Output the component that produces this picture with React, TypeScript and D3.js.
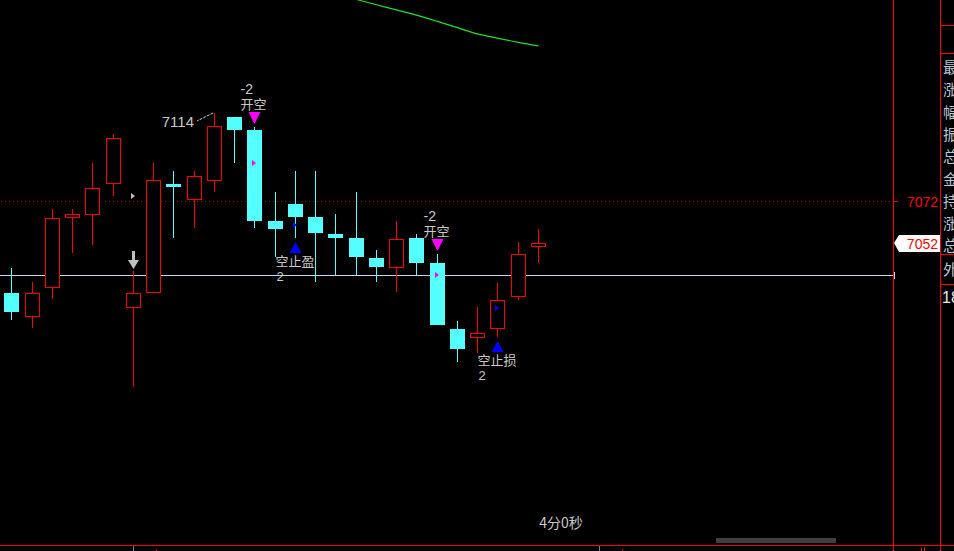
import React from "react";
import * as d3 from "d3";

const W = 954;
const H = 551;

// OHLC bars (index order, left to right)
const opens = [7028, 7017, 7031, 7064.5, 7066, 7080.5, 7021, 7028.5, 7080, 7073, 7082, 7112, 7106, 7062.5, 7070.5, 7064.5, 7056, 7054.5, 7044.5, 7040.5, 7054.5, 7042.5, 7010.5, 7007, 7011, 7026.5, 7050.5];
const highs = [7040, 7033, 7068, 7068, 7090, 7104, 7038.5, 7090, 7086.5, 7086.5, 7114, 7112, 7107.5, 7076.5, 7086.5, 7086.5, 7066, 7076.5, 7048.5, 7062.5, 7056, 7046.5, 7014.5, 7021, 7032.5, 7052.5, 7058.5];
const lows = [7015, 7011, 7025, 7047, 7051, 7074.5, 6983, 7028.5, 7054.5, 7059, 7076.5, 7090, 7059, 7045, 7054.5, 7033, 7036.5, 7036.5, 7033, 7028.5, 7036.5, 7012.5, 6995, 6999, 7007, 7024.5, 7042.5];
const closes = [7019, 7028, 7064, 7066, 7078, 7102, 7028, 7082, 7078.5, 7084, 7108, 7106, 7062.5, 7058.5, 7064.5, 7056.5, 7054.5, 7045, 7040.5, 7054, 7042.5, 7012.5, 7001, 7009, 7024.5, 7046.5, 7052];

// green average line
const maIndex = [16, 17, 18, 19, 20, 21, 22, 23, 24, 25, 26];
const maValues = [7171, 7168.5, 7166, 7163.5, 7161, 7158, 7155, 7152, 7150, 7148, 7146.3];

// trade signals
const openSignalIdx = [12, 21];
const openSignalQty = ["-2", "-2"];
const openSignalText = ["开空", "开空"];
const closeSignalIdx = [14, 24];
const closeSignalQty = ["2", "2"];
const closeSignalText = ["空止盈", "空止损"];

// small position markers
const markerIdx = [6, 12, 14, 21, 24];
const markerPrice = [7074.4, 7090.2, 7060.5, 7036.6, 7020.8];
const markerColor = ["#c0c0c0", "#ff00ff", "#0000ff", "#ff00ff", "#0000ff"];

const arrowIdx = 6;
const highLabelIdx = 10;
const highLabel = "7114";
const refPrice = 7036.6;
const gridPrice = 7072;
const gridLabel = "7072";
const lastPrice = 7052;
const lastLabel = "7052";
const timerText = "4分0秒";
const panelChars = ["最", "涨", "幅", "振", "总", "金", "持", "涨", "总"];
const panelChar2 = "外";
const panelNum = "18";
const timeTickIdx = [6, 29];

const RED = "#ff0000";
const CYAN = "#54ffff";
const TXT = "#c8c8c8";
const CJK = "'Noto Sans CJK SC', 'Noto Sans', sans-serif";
const NUM = "'Liberation Sans', Arial, sans-serif";

export default function App() {
  const x = d3.scaleLinear().domain([0, 1]).range([11.8, 32.05]);
  const y = d3.scaleLinear().domain([gridPrice, 7114]).range([201, 113.3]);
  const px = (i: number) => Math.floor(x(i));
  const py = (p: number) => Math.round(y(p));

  const plotRight = 893;
  const axisRight = 940;

  const maLine = d3
    .line<number>()
    .x((_, k) => px(maIndex[k]) + 0.5)
    .y((v) => y(v))
    .curve(d3.curveMonotoneX);

  const candles = opens.map((o, i) => {
    const c = closes[i];
    const h = highs[i];
    const l = lows[i];
    const cx = px(i);
    const up = c >= o;
    const top = py(Math.max(o, c));
    const bot = py(Math.min(o, c));
    if (up) {
      const bh = Math.max(bot - top, 1);
      return (
        <g key={i}>
          {py(h) < top && <line x1={cx + 0.5} x2={cx + 0.5} y1={py(h)} y2={top} stroke={RED} />}
          {py(l) > top + bh && <line x1={cx + 0.5} x2={cx + 0.5} y1={top + bh + 1} y2={py(l)} stroke={RED} />}
          <rect x={cx - 7 + 0.5} y={top + 0.5} width={14} height={bh} fill="#000" stroke={RED} />
        </g>
      );
    }
    return (
      <g key={i}>
        <line x1={cx + 0.5} x2={cx + 0.5} y1={py(h)} y2={py(l)} stroke={CYAN} />
        <rect x={cx - 7} y={top} width={15} height={Math.max(bot - top, 1)} fill={CYAN} />
      </g>
    );
  });

  return (
    <svg
      width={W}
      height={H}
      style={{ position: "absolute", left: 0, top: 0, background: "#000", display: "block" }}
    >
      <rect x={0} y={0} width={W} height={H} fill="#000" />

      {/* dotted grid line */}
      <line x1={1} x2={plotRight - 3} y1={py(gridPrice) + 0.5} y2={py(gridPrice) + 0.5} stroke="#8a0000" strokeDasharray="1 3" />
      <line x1={plotRight + 1} x2={plotRight + 5} y1={py(gridPrice) + 0.5} y2={py(gridPrice) + 0.5} stroke={RED} />

      {/* reference line */}
      <line x1={0} x2={plotRight} y1={py(refPrice) + 0.5} y2={py(refPrice) + 0.5} stroke="#c4d6ee" />
      <line x1={plotRight + 1.5} x2={plotRight + 1.5} y1={py(refPrice) - 3} y2={py(refPrice) + 4} stroke="#c4d6ee" />

      {/* green MA */}
      <path d={maLine(maValues) || ""} fill="none" stroke="#22e022" strokeWidth={1.2} />

      {candles}

      {/* markers */}
      {markerIdx.map((i, k) => {
        const mx = px(i) - 2;
        const my = py(markerPrice[k]);
        return <path key={k} d={`M${mx},${my - 3}L${mx + 4},${my}L${mx},${my + 3}Z`} fill={markerColor[k]} />;
      })}

      {/* gray down arrow */}
      {(() => {
        const cx = px(arrowIdx) + 0.5;
        const hy = py(highs[arrowIdx]);
        return (
          <path
            d={`M${cx - 1.5},${hy - 20}L${cx + 1.5},${hy - 20}L${cx + 1.5},${hy - 11}L${cx + 5.5},${hy - 11}L${cx},${hy - 2}L${cx - 5.5},${hy - 11}L${cx - 1.5},${hy - 11}Z`}
            fill="#c0c0c0"
          />
        );
      })()}

      {/* high label */}
      {(() => {
        const cx = px(highLabelIdx);
        const hy = py(highs[highLabelIdx]);
        return (
          <g>
            <line x1={cx - 1} y1={hy} x2={cx - 17} y2={hy + 8} stroke={TXT} strokeDasharray="3 1" />
            <text x={cx - 20} y={hy + 14} textAnchor="end" fill={TXT} fontFamily={NUM} fontSize={15}>
              {highLabel}
            </text>
          </g>
        );
      })()}

      {/* open signals */}
      {openSignalIdx.map((i, k) => {
        const cx = px(i) + 0.5;
        const hy = py(highs[i]);
        return (
          <g key={k}>
            <path d={`M${cx - 6},${hy - 15}L${cx + 6},${hy - 15}L${cx},${hy - 3}Z`} fill="#ff00ff" />
            <text x={cx - 14} y={hy - 33} fill={TXT} fontFamily={NUM} fontSize={14}>
              {openSignalQty[k]}
            </text>
            <text x={cx - 14} y={hy - 18} fill={TXT} fontFamily={CJK} fontSize={13}>
              {openSignalText[k]}
            </text>
          </g>
        );
      })}

      {/* close signals */}
      {closeSignalIdx.map((i, k) => {
        const cx = px(i) + 0.5;
        const ly = py(lows[i]);
        return (
          <g key={k}>
            <path d={`M${cx - 6},${ly + 15}L${cx + 6},${ly + 15}L${cx},${ly + 4}Z`} fill="#0000ff" />
            <text x={cx - 20} y={ly + 28} fill={TXT} fontFamily={CJK} fontSize={13}>
              {closeSignalText[k]}
            </text>
            <text x={cx - 19} y={ly + 43} fill={TXT} fontFamily={NUM} fontSize={13}>
              {closeSignalQty[k]}
            </text>
          </g>
        );
      })}

      {/* right axis */}
      <line x1={plotRight + 0.5} x2={plotRight + 0.5} y1={0} y2={H} stroke={RED} />
      <line x1={axisRight + 0.5} x2={axisRight + 0.5} y1={0} y2={H} stroke={RED} />
      <text x={938} y={py(gridPrice) + 6} textAnchor="end" fill={RED} fontFamily={NUM} fontSize={14}>
        {gridLabel}
      </text>
      {(() => {
        const ly = py(lastPrice);
        return (
          <g>
            <path d={`M${plotRight + 1},${ly}L${plotRight + 6},${ly - 8}L${axisRight},${ly - 8}L${axisRight},${ly + 9}L${plotRight + 6},${ly + 9}Z`} fill="#fff" />
            <text x={938} y={ly + 6} textAnchor="end" fill={RED} fontFamily={NUM} fontSize={14}>
              {lastLabel}
            </text>
          </g>
        );
      })()}

      {/* right info panel */}
      {[25, 53, 254, 284].map((yy, k) => (
        <line key={k} x1={axisRight} x2={W} y1={yy + 0.5} y2={yy + 0.5} stroke={RED} />
      ))}
      {panelChars.map((ch, k) => (
        <text key={k} x={943} y={73 + k * 22.3} fill="#b8c4d0" fontFamily={CJK} fontSize={15}>
          {ch}
        </text>
      ))}
      <text x={943} y={275} fill="#b8c4d0" fontFamily={CJK} fontSize={15}>
        {panelChar2}
      </text>
      <text x={942} y={303} fill="#e8e8e8" fontFamily={NUM} fontSize={16}>
        {panelNum}
      </text>

      {/* bottom */}
      <line x1={0} x2={W} y1={545.5} y2={545.5} stroke={RED} />
      {timeTickIdx.map((i, k) => (
        <g key={k}>
          <line x1={px(i) + 0.5} x2={px(i) + 0.5} y1={546} y2={H} stroke="#808080" />
          <rect x={px(i) + 23} y={549} width={1} height={2} fill={RED} />
        </g>
      ))}
      <rect x={921} y={548} width={1} height={3} fill={RED} />
      <rect x={924} y={547} width={1} height={4} fill={RED} />
      <rect x={716} y={538} width={120} height={5} fill="#404040" />
      <text x={561} y={528} textAnchor="middle" fill={TXT} fontFamily={CJK} fontSize={14}>
        {timerText}
      </text>
    </svg>
  );
}
